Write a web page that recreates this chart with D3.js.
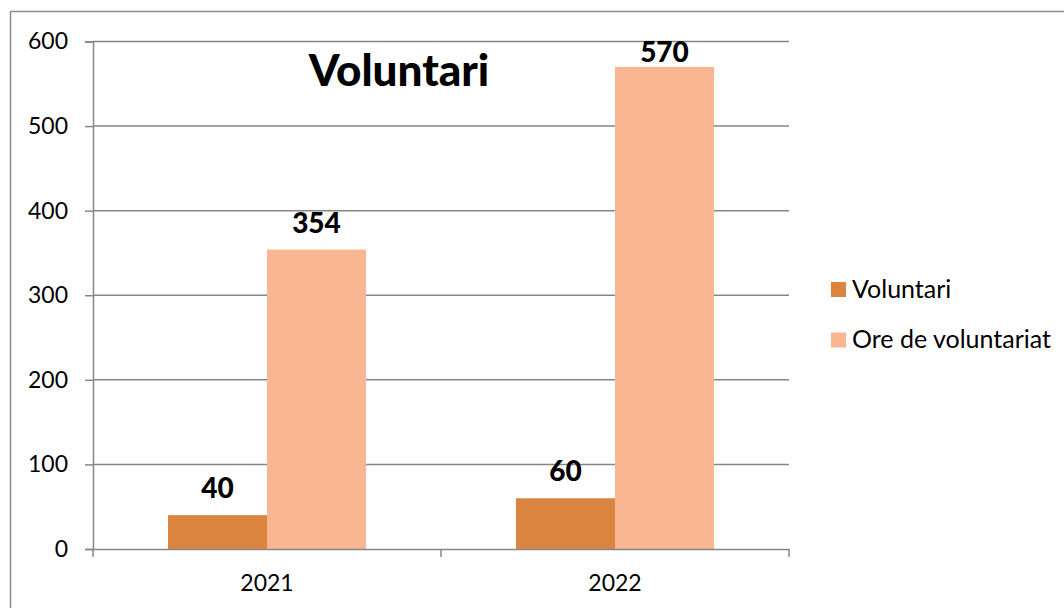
<!DOCTYPE html>
<html>
<head>
<meta charset="utf-8">
<script src="https://cdn.jsdelivr.net/npm/d3@7"></script>
<style>
  html, body { margin: 0; padding: 0; background: #fff; }
  svg { display: block; font-family: Lato, "Open Sans", sans-serif; }
</style>
</head>
<body>
<svg id="chart" width="1064" height="608"></svg>
<script>
const years = ['2021', '2022'];
const seriesNames = ['Voluntari', 'Ore de voluntariat'];
const voluntari = [40, 60];
const oreVoluntariat = [354, 570];
const yTicks = [0, 100, 200, 300, 400, 500, 600];
const seriesColors = ['#da8440', '#f8b692'];

const svg = d3.select('#chart');
const margin = { top: 41.5, right: 275, bottom: 59, left: 93 };
const width = 1064;
const height = 608;
const plotBottom = height - margin.bottom;
const plotRight = width - margin.right;

// outer frame (right/bottom edges fall outside the picture)
svg.append('rect')
  .attr('x', 10.5).attr('y', 11.5)
  .attr('width', 1100).attr('height', 700)
  .attr('fill', 'none').attr('stroke', '#8c8c8c').attr('stroke-width', 1.5);

const x = d3.scaleBand().domain(years).range([margin.left, plotRight]);
const inner = d3.scaleBand().domain(seriesNames)
  .range([x.bandwidth() * 0.2155, x.bandwidth() * (1 - 0.2155)]);
const y = d3.scaleLinear().domain([0, 600]).range([plotBottom, margin.top]);

const axisColor = '#868686';

// gridlines + y axis
const yAxis = svg.append('g')
  .attr('transform', `translate(${margin.left},0)`)
  .call(d3.axisLeft(y).tickValues(yTicks).tickSize(8).tickPadding(17));
yAxis.select('.domain').attr('stroke', axisColor).attr('stroke-width', 1.5);
yAxis.selectAll('.tick line').attr('stroke', axisColor).attr('stroke-width', 1.5);
yAxis.selectAll('.tick text')
  .attr('font-size', 23).attr('fill', '#000').attr('font-family', 'Lato, sans-serif');

svg.append('g').selectAll('line')
  .data(yTicks.filter(t => t > 0))
  .enter().append('line')
  .attr('x1', margin.left).attr('x2', plotRight)
  .attr('y1', d => y(d)).attr('y2', d => y(d))
  .attr('stroke', axisColor).attr('stroke-width', 1.5);

// bars
const rows = years.map((yr, i) => ({ year: yr, values: [voluntari[i], oreVoluntariat[i]] }));
const groups = svg.append('g').selectAll('g')
  .data(rows)
  .enter().append('g')
  .attr('transform', d => `translate(${x(d.year)},0)`);

groups.selectAll('rect')
  .data(d => d.values.map((v, j) => ({ name: seriesNames[j], value: v, idx: j })))
  .enter().append('rect')
  .attr('x', d => inner(d.name))
  .attr('width', inner.bandwidth())
  .attr('y', d => y(d.value))
  .attr('height', d => plotBottom - y(d.value))
  .attr('fill', d => seriesColors[d.idx]);

groups.selectAll('text')
  .data(d => d.values.map((v, j) => ({ name: seriesNames[j], value: v })))
  .enter().append('text')
  .attr('x', d => inner(d.name) + inner.bandwidth() / 2)
  .attr('y', d => Math.max(y(d.value) - 17, margin.top + 20))
  .attr('text-anchor', 'middle')
  .attr('font-size', 28).attr('font-weight', 900)
  .text(d => d.value);

// x axis
const xAxis = svg.append('g')
  .attr('transform', `translate(0,${plotBottom})`)
  .call(d3.axisBottom(x).tickSize(0).tickPadding(26));
xAxis.select('.domain').attr('stroke', axisColor).attr('stroke-width', 1.5);
xAxis.selectAll('.tick text')
  .attr('font-size', 23).attr('fill', '#000').attr('font-family', 'Lato, sans-serif');
svg.append('g').selectAll('line')
  .data([margin.left, ...years.map(yr => x(yr) + x.bandwidth())])
  .enter().append('line')
  .attr('x1', d => d).attr('x2', d => d)
  .attr('y1', plotBottom).attr('y2', plotBottom + 8)
  .attr('stroke', axisColor).attr('stroke-width', 1.5);

// title
svg.append('text')
  .attr('x', 399).attr('y', 86)
  .attr('text-anchor', 'middle')
  .attr('font-size', 44).attr('font-weight', 900)
  .text('Voluntari');

// legend
const legend = svg.append('g').attr('transform', 'translate(831,282)');
const item = legend.selectAll('g')
  .data(seriesNames)
  .enter().append('g')
  .attr('transform', (d, i) => `translate(0,${i * 50.5})`);
item.append('rect')
  .attr('width', 15).attr('height', 15)
  .attr('fill', (d, i) => seriesColors[i]);
item.append('text')
  .attr('x', 21).attr('y', 15.5)
  .attr('font-size', 25)
  .text(d => d);
</script>
</body>
</html>
